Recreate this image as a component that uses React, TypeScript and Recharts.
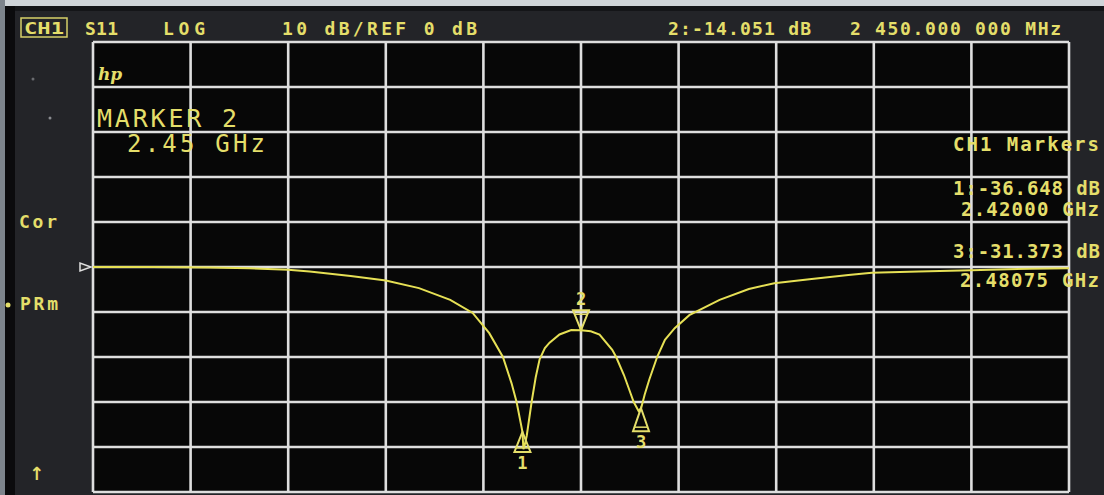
import React from 'react';
import { LineChart, Line, XAxis, YAxis, CartesianGrid, ReferenceDot } from 'recharts';

// Frequency (GHz) and S11 (dB)
const freqGHz = [
  2.2, 2.23, 2.26, 2.28, 2.3, 2.311, 2.332, 2.35, 2.367, 2.383, 2.3945, 2.403, 2.41, 2.4144, 2.417,
  2.4195, 2.42, 2.4205, 2.4212, 2.4222, 2.4247, 2.4268, 2.4288, 2.4315, 2.4339, 2.439, 2.445, 2.45,
  2.455, 2.4595, 2.466, 2.468, 2.472, 2.4745, 2.477, 2.4795, 2.4808, 2.4826, 2.485, 2.489, 2.493,
  2.498, 2.5055, 2.521, 2.536, 2.549, 2.567, 2.587, 2.599, 2.623, 2.65, 2.68, 2.7,
];
const s11dB = [
  0.0, 0.0, -0.1, -0.3, -0.6, -1.0, -2.0, -3.0, -4.7, -7.3, -10.2, -14.7, -20.0, -25.8, -30.0,
  -35.5, -36.648, -40.5, -39.5, -37.5, -30.0, -24.5, -20.5, -18.0, -16.8, -15.0, -14.0, -14.051,
  -14.3, -15.0, -18.4, -20.0, -24.0, -27.0, -30.0, -32.0, -31.373, -28.4, -25.0, -20.0, -16.2,
  -13.6, -10.7, -7.3, -4.9, -3.6, -2.7, -1.8, -1.3, -1.0, -0.7, -0.4, -0.3,
];

const xTicks = [2.2, 2.25, 2.3, 2.35, 2.4, 2.45, 2.5, 2.55, 2.6, 2.65, 2.7];
const yTicks = [-50, -40, -30, -20, -10, 0, 10, 20, 30, 40, 50];

const markerIds = ['1', '2', '3'];
const markerFreq = [2.42, 2.45, 2.48075];
const markerDb = [-36.648, -14.051, -31.373];

const headerTexts = ['S11', 'LOG', '10 dB/REF 0 dB', '2:-14.051 dB', '2 450.000 000 MHz'];
const markerListTexts = ['CH1 Markers', '1:-36.648 dB', '2.42000 GHz', '3:-31.373 dB', '2.48075 GHz'];

const data = freqGHz.map((f, i) => ({ f, db: s11dB[i] }));

const YEL = '#e4de6a';
const TRACE = '#e6e055';
const MONO = '"DejaVu Sans Mono", "Liberation Mono", monospace';

const MarkerShape = (props: any) => {
  const { cx, cy, id } = props;
  if (cx == null || cy == null) return null;
  const w = 8;
  if (id === '2') {
    const h = 20;
    return (
      <g>
        <polygon points={`${cx},${cy} ${cx - w},${cy - h} ${cx + w},${cy - h}`} fill="none" stroke={YEL} strokeWidth={2} />
        <line x1={cx - w + 2} y1={cy - h + 4} x2={cx + w - 2} y2={cy - h + 4} stroke={YEL} strokeWidth={1.5} />
        <text x={cx} y={cy - h - 5} fill={YEL} fontFamily={MONO} fontSize={17} fontWeight="bold" textAnchor="middle">{id}</text>
      </g>
    );
  }
  const h = id === '1' ? 20 : 23;
  return (
    <g>
      <polygon points={`${cx},${cy} ${cx - w},${cy + h} ${cx + w},${cy + h}`} fill="none" stroke={YEL} strokeWidth={2} />
      <line x1={cx - w + 2} y1={cy + h - 4} x2={cx + w - 2} y2={cy + h - 4} stroke={YEL} strokeWidth={1.5} />
      <text x={cx} y={cy + h + 17} fill={YEL} fontFamily={MONO} fontSize={17} fontWeight="bold" textAnchor="middle">{id}</text>
    </g>
  );
};

const RefArrow = (props: any) => {
  const { cx, cy } = props;
  if (cx == null || cy == null) return null;
  return (
    <g>
      <polygon points={`${cx - 13},${cy - 4} ${cx - 13},${cy + 4} ${cx - 2},${cy}`} fill="#303030" stroke="#e0e0e0" strokeWidth={1.5} />
    </g>
  );
};

export default function App() {
  const headerX = [85, 163, 282, 668, 850];
  const headerLen = [33, 42, 195, 143, 211];
  const mlX = [953, 953, 961, 953, 960];
  const mlY = [151, 195, 216, 258, 287];
  const mlLen = [146, 147, 138, 147, 139];
  return (
    <div style={{ position: 'absolute', left: 0, top: 0, width: 1104, height: 495, background: '#232428', overflow: 'hidden' }}>
      <div style={{ position: 'absolute', left: 0, top: 0, width: 1104, height: 6, background: '#cfd4d8' }} />
      <div style={{ position: 'absolute', left: 0, top: 6, width: 1104, height: 5, background: '#141518' }} />
      <div style={{ position: 'absolute', left: 0, top: 0, width: 5, height: 495, background: '#7d848c' }} />
      <div style={{ position: 'absolute', left: 5, top: 6, width: 10, height: 489, background: '#0b0b0d' }} />
      <div style={{ position: 'absolute', left: 0, top: 0 }}>
        <LineChart width={1104} height={495} data={data} margin={{ top: 42, right: 35, bottom: 3, left: 93 }}>
          <CartesianGrid stroke="#dedede" strokeWidth={2.6} fill="#070707" fillOpacity={1} />
          <XAxis type="number" dataKey="f" domain={[2.2, 2.7]} ticks={xTicks} hide allowDataOverflow />
          <YAxis type="number" domain={[-50, 50]} ticks={yTicks} hide allowDataOverflow />
          <Line type="linear" dataKey="db" stroke={TRACE} strokeWidth={2} dot={false} isAnimationActive={false} />
          <ReferenceDot x={2.2} y={0} r={0} ifOverflow="visible" shape={(p: any) => <RefArrow {...p} />} />
          {markerIds.map((id, i) => (
            <ReferenceDot key={id} x={markerFreq[i]} y={markerDb[i]} r={0} ifOverflow="visible" shape={(p: any) => <MarkerShape {...p} id={id} />} />
          ))}
        </LineChart>
      </div>
      <svg width={1104} height={495} style={{ position: 'absolute', left: 0, top: 0, pointerEvents: 'none' }}>
        <rect x={21} y={18} width={46} height={19} fill="none" stroke="#d6cf68" strokeWidth={1.5} />
        <text x={24} y={34} fill={YEL} fontFamily={MONO} fontSize={16} fontWeight="bold" textLength={40} lengthAdjust="spacingAndGlyphs">CH1</text>
        {headerTexts.map((t, i) => (
          <text key={t} x={headerX[i]} y={35} fill={YEL} fontFamily={MONO} fontSize={18} fontWeight="bold" textLength={headerLen[i]} lengthAdjust="spacing">{t}</text>
        ))}
        <text x={98} y={80} fill={YEL} fontFamily='"DejaVu Serif", serif' fontStyle="italic" fontWeight="bold" fontSize={17}>hp</text>
        <text x={97} y={127} fill={YEL} fontFamily={MONO} fontSize={25} textLength={140} lengthAdjust="spacing">MARKER 2</text>
        <text x={127} y={152} fill={YEL} fontFamily={MONO} fontSize={24} textLength={138} lengthAdjust="spacing">2.45 GHz</text>
        {markerListTexts.map((t, i) => (
          <text key={t} x={mlX[i]} y={mlY[i]} fill={YEL} fontFamily={MONO} fontSize={19} fontWeight="bold" textLength={mlLen[i]} lengthAdjust="spacing">{t}</text>
        ))}
        <text x={19} y={228} fill={YEL} fontFamily={MONO} fontSize={18} fontWeight="bold" textLength={38} lengthAdjust="spacing">Cor</text>
        <text x={20} y={310} fill={YEL} fontFamily={MONO} fontSize={18} fontWeight="bold" textLength={38} lengthAdjust="spacing">PRm</text>
        <circle cx={8} cy={305} r={2.5} fill={YEL} />
        <text x={29} y={480} fill={YEL} fontFamily='"DejaVu Sans", sans-serif' fontSize={18} fontWeight="bold">↑</text>
        <circle cx={33} cy={79} r={1.5} fill="#6a6c70" />
        <circle cx={50} cy={118} r={1.5} fill="#8a8c90" />
      </svg>
    </div>
  );
}
